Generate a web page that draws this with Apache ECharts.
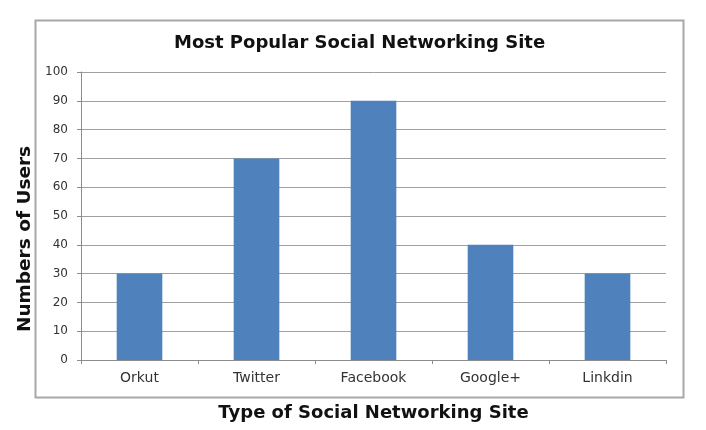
<!DOCTYPE html>
<html><head><meta charset="utf-8">
<script src="https://cdn.jsdelivr.net/npm/echarts@6/dist/echarts.min.js"></script>
<style>html,body{margin:0;padding:0;background:#fff}#c{width:706px;height:430px}</style>
</head><body><div id="c"></div>
<script>
const categories = ['Orkut', 'Twitter', 'Facebook', 'Google+', 'Linkdin'];
const users = [30, 70, 90, 40, 30];
const titleText = 'Most Popular Social Networking Site';
const xTitle = 'Type of Social Networking Site';
const yTitle = 'Numbers of Users';

const chart = echarts.init(document.getElementById('c'), null, {renderer: 'canvas'});
chart.setOption({
  animation: false,
  backgroundColor: '#fff',
  textStyle: {fontFamily: 'DejaVu Sans'},
  title: {
    text: titleText, left: 174, top: 34, padding: 0,
    textStyle: {fontFamily: 'DejaVu Sans', fontWeight: 'bold', fontSize: 18, color: '#111'}
  },
  graphic: [{
    type: 'rect', left: 33, top: 18, z: -1,
    shape: {width: 648, height: 377},
    style: {fill: 'none', stroke: '#a8a8a8', lineWidth: 2}
  }, {
    type: 'text', x: 25, y: 239, rotation: Math.PI / 2,
    style: {text: yTitle, fontFamily: 'DejaVu Sans', fontWeight: 'bold', fontSize: 18.5,
            fill: '#111', align: 'center', verticalAlign: 'middle'}
  }],
  grid: {left: 81, right: 40, top: 72, bottom: 70},
  xAxis: {
    type: 'category', data: categories,
    name: xTitle, nameLocation: 'middle', nameGap: 44,
    nameTextStyle: {fontFamily: 'DejaVu Sans', fontWeight: 'bold', fontSize: 18, color: '#111'},
    axisLine: {lineStyle: {color: '#8c8c8c', width: 1}},
    axisTick: {show: true, length: 4, lineStyle: {color: '#8c8c8c'}},
    axisLabel: {margin: 11, fontSize: 14, color: '#333'}
  },
  yAxis: {
    type: 'value', min: 0, max: 100, interval: 10,
    axisLine: {show: true, lineStyle: {color: '#8c8c8c', width: 1}},
    axisTick: {show: true, length: 4, lineStyle: {color: '#8c8c8c'}},
    axisLabel: {margin: 13, fontSize: 12, color: '#333'},
    splitLine: {lineStyle: {color: '#a0a0a0', width: 1}}
  },
  series: [{
    type: 'bar', data: users, barWidth: '39%',
    itemStyle: {color: '#4f81bd'}
  }]
});
</script></body></html>
